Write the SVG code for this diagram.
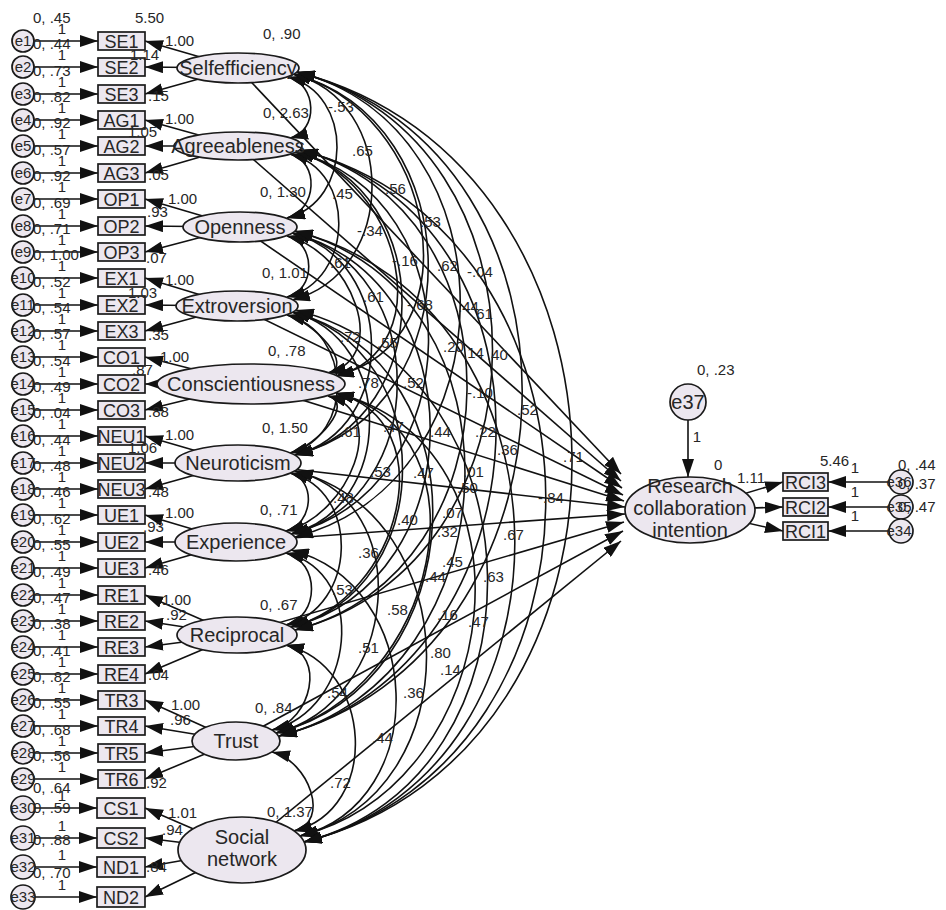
<svg xmlns="http://www.w3.org/2000/svg" width="946" height="910" viewBox="0 0 946 910">
<defs>
<style>
.nd{fill:#ece7ef;stroke:#1a1a1a;stroke-width:1.7}
.t{font-family:"Liberation Sans",Arial,sans-serif;fill:#262626}
.n{font-size:15px}
.b{font-size:18px;text-anchor:middle}
.l{font-size:20px;text-anchor:middle}
.e{font-size:15px;text-anchor:middle}
.c{fill:none;stroke:#111;stroke-width:1.6}
.ar{marker-end:url(#a)}
.dr{marker-start:url(#a);marker-end:url(#a)}
</style>
<marker id="a" viewBox="0 0 18 12" refX="18" refY="6" markerWidth="18" markerHeight="12" markerUnits="userSpaceOnUse" orient="auto-start-reverse"><path d="M0,0L18,6L0,12z" fill="#111"/></marker>
</defs>
<rect width="946" height="910" fill="#fff"/>
<g id="connectors">
<g class="c ar">
<path d="M238,68L145,41"/><path d="M238,68L145,67"/><path d="M238,68L145,94"/>
<path d="M238,146L145,120"/><path d="M238,146L145,146"/><path d="M238,146L145,173"/>
<path d="M240,227L145,199"/><path d="M240,227L145,226"/><path d="M240,227L145,252"/>
<path d="M237,306L145,278"/><path d="M237,306L145,305"/><path d="M237,306L145,331"/>
<path d="M251,384L145,357"/><path d="M251,384L145,384"/><path d="M251,384L145,410"/>
<path d="M238,463L145,436"/><path d="M238,463L145,463"/><path d="M238,463L145,489"/>
<path d="M236,542L145,515"/><path d="M236,542L145,542"/><path d="M236,542L145,568"/>
<path d="M237,635L145,595"/><path d="M237,635L145,621"/><path d="M237,635L145,647"/><path d="M237,635L145,674"/>
<path d="M236,741L145,700"/><path d="M236,741L145,726"/><path d="M236,741L145,753"/><path d="M236,741L145,779"/>
<path d="M242,850L145,808"/><path d="M242,850L145,838"/><path d="M242,850L145,867"/><path d="M242,850L145,897"/>
<path d="M34,41H98"/><path d="M34,67H98"/><path d="M34,94H98"/><path d="M34,120H98"/><path d="M34,146H98"/><path d="M34,173H98"/>
<path d="M34,199H98"/><path d="M34,226H98"/><path d="M34,252H98"/><path d="M34,278H98"/><path d="M34,305H98"/><path d="M34,331H98"/>
<path d="M34,357H98"/><path d="M34,384H98"/><path d="M34,410H98"/><path d="M34,436H98"/><path d="M34,463H98"/><path d="M34,489H98"/>
<path d="M34,515H98"/><path d="M34,542H98"/><path d="M34,568H98"/><path d="M34,595H98"/><path d="M34,621H98"/><path d="M34,647H98"/>
<path d="M34,674H98"/><path d="M34,700H98"/><path d="M34,726H98"/><path d="M34,753H98"/><path d="M34,779H98"/>
<path d="M35,808H97"/><path d="M35,838H97"/><path d="M35,867H97"/><path d="M35,897H97"/>
<path d="M238,68L621,474"/><path d="M238,146L621,481"/><path d="M240,227L622,488"/><path d="M237,306L623,495"/>
<path d="M251,384L624,501"/><path d="M238,463L625,507"/><path d="M236,542L625,514"/><path d="M237,635L624,522"/>
<path d="M236,741L623,531"/><path d="M242,850L621,541"/>
<path d="M688,420V477"/>
<path d="M690,510L783,482"/><path d="M690,510L783,507"/><path d="M690,510L783,531"/>
<path d="M889,482H828"/><path d="M889,507H828"/><path d="M889,531H828"/>
</g>
<g class="c dr">
<path d="M288,77C317,84 319,131 290,138"/>
<path d="M290,154C320,162 317,210 287,218"/>
<path d="M287,236C316,243 316,290 287,297"/>
<path d="M287,315C314,322 355,366 328,373"/>
<path d="M328,396C355,403 317,446 290,453"/>
<path d="M290,473C317,480 313,524 286,531"/>
<path d="M286,553C320,562 320,616 286,625"/>
<path d="M286,645C326,655 312,720 272,730"/>
<path d="M272,752C309,761 331,822 294,831"/>
<path d="M288,77C354,94 353,201 287,218"/>
<path d="M290,154C357,171 354,280 287,297"/>
<path d="M287,236C351,252 392,357 328,373"/>
<path d="M287,315C352,332 355,436 290,453"/>
<path d="M328,396C391,412 349,515 286,531"/>
<path d="M290,473C361,491 357,607 286,625"/>
<path d="M286,553C369,574 355,709 272,730"/>
<path d="M286,645C373,667 381,809 294,831"/>
<path d="M293,74C399,101 398,273 292,300"/>
<path d="M296,152C401,179 441,349 336,376"/>
<path d="M292,233C396,260 399,428 295,455"/>
<path d="M292,312C396,339 395,507 291,534"/>
<path d="M336,393C446,421 401,599 291,627"/>
<path d="M295,471C418,502 399,702 276,733"/>
<path d="M291,550C425,584 434,802 300,836"/>
<path d="M293,74C435,110 478,340 336,376"/>
<path d="M296,152C438,188 437,419 295,455"/>
<path d="M292,233C433,269 432,498 291,534"/>
<path d="M292,312C440,350 439,589 291,627"/>
<path d="M336,393C496,434 436,692 276,733"/>
<path d="M295,471C467,515 472,792 300,836"/>
<path d="M293,74C472,120 474,409 295,455"/>
<path d="M296,152C476,198 471,488 291,534"/>
<path d="M292,233C477,280 476,580 291,627"/>
<path d="M292,312C490,363 474,683 276,733"/>
<path d="M336,393C544,446 508,783 300,836"/>
<path d="M297,72C516,128 514,481 295,537"/>
<path d="M300,150C526,208 521,572 295,630"/>
<path d="M295,231C532,292 516,675 279,736"/>
<path d="M296,310C546,374 554,778 304,842"/>
<path d="M297,72C559,139 557,563 295,630"/>
<path d="M300,150C575,220 554,666 279,736"/>
<path d="M295,231C582,304 591,769 304,842"/>
<path d="M297,72C609,152 591,656 279,736"/>
<path d="M300,150C625,233 629,759 304,842"/>
<path d="M297,72C659,164 666,750 304,842"/>
</g>
</g>
<g id="factors">
<g id="Selfefficiency"><ellipse class="nd" cx="238" cy="68" rx="61" ry="15"/><text class="t l" x="238" y="75">Selfefficiency</text></g>
<g id="Agreeableness"><ellipse class="nd" cx="238" cy="146" rx="64" ry="14"/><text class="t l" x="238" y="153">Agreeableness</text></g>
<g id="Openness"><ellipse class="nd" cx="240" cy="227" rx="57" ry="15"/><text class="t l" x="240" y="234">Openness</text></g>
<g id="Extroversion"><ellipse class="nd" cx="237" cy="306" rx="61" ry="15"/><text class="t l" x="237" y="313">Extroversion</text></g>
<g id="Conscientiousness"><ellipse class="nd" cx="251" cy="384" rx="94" ry="20"/><text class="t l" x="251" y="391">Conscientiousness</text></g>
<g id="Neuroticism"><ellipse class="nd" cx="238" cy="463" rx="63" ry="18"/><text class="t l" x="238" y="470">Neuroticism</text></g>
<g id="Experience"><ellipse class="nd" cx="236" cy="542" rx="61" ry="19"/><text class="t l" x="236" y="549">Experience</text></g>
<g id="Reciprocal"><ellipse class="nd" cx="237" cy="635" rx="60" ry="18"/><text class="t l" x="237" y="642">Reciprocal</text></g>
<g id="Trust"><ellipse class="nd" cx="236" cy="741" rx="44" ry="19"/><text class="t l" x="236" y="748">Trust</text></g>
<g id="Socialnetwork"><ellipse class="nd" cx="242" cy="850" rx="64" ry="33"/><text class="t l" x="242" y="844">Social</text><text class="t l" x="242" y="866">network</text></g>
<g id="RCI"><ellipse class="nd" cx="690" cy="510" rx="65" ry="33"/><text class="t l" x="690" y="493">Research</text><text class="t l" x="690" y="515">collaboration</text><text class="t l" x="690" y="537">intention</text></g>
<g id="e37"><circle class="nd" cx="688" cy="402" r="18"/><text class="t l" x="688" y="409">e37</text></g>
</g>
<g id="indicators">
<g id="SE1"><rect class="nd" x="98" y="32" width="47" height="18"/><text class="t b" x="121.5" y="48">SE1</text></g>
<g id="SE2"><rect class="nd" x="98" y="58" width="47" height="18"/><text class="t b" x="121.5" y="74">SE2</text></g>
<g id="SE3"><rect class="nd" x="98" y="85" width="47" height="18"/><text class="t b" x="121.5" y="101">SE3</text></g>
<g id="AG1"><rect class="nd" x="98" y="111" width="47" height="18"/><text class="t b" x="121.5" y="127">AG1</text></g>
<g id="AG2"><rect class="nd" x="98" y="137" width="47" height="18"/><text class="t b" x="121.5" y="153">AG2</text></g>
<g id="AG3"><rect class="nd" x="98" y="164" width="47" height="18"/><text class="t b" x="121.5" y="180">AG3</text></g>
<g id="OP1"><rect class="nd" x="98" y="190" width="47" height="18"/><text class="t b" x="121.5" y="206">OP1</text></g>
<g id="OP2"><rect class="nd" x="98" y="217" width="47" height="18"/><text class="t b" x="121.5" y="233">OP2</text></g>
<g id="OP3"><rect class="nd" x="98" y="243" width="47" height="18"/><text class="t b" x="121.5" y="259">OP3</text></g>
<g id="EX1"><rect class="nd" x="98" y="269" width="47" height="18"/><text class="t b" x="121.5" y="285">EX1</text></g>
<g id="EX2"><rect class="nd" x="98" y="296" width="47" height="18"/><text class="t b" x="121.5" y="312">EX2</text></g>
<g id="EX3"><rect class="nd" x="98" y="322" width="47" height="18"/><text class="t b" x="121.5" y="338">EX3</text></g>
<g id="CO1"><rect class="nd" x="98" y="348" width="47" height="18"/><text class="t b" x="121.5" y="364">CO1</text></g>
<g id="CO2"><rect class="nd" x="98" y="375" width="47" height="18"/><text class="t b" x="121.5" y="391">CO2</text></g>
<g id="CO3"><rect class="nd" x="98" y="401" width="47" height="18"/><text class="t b" x="121.5" y="417">CO3</text></g>
<g id="NEU1"><rect class="nd" x="98" y="427" width="47" height="18"/><text class="t b" x="121.5" y="443">NEU1</text></g>
<g id="NEU2"><rect class="nd" x="98" y="454" width="47" height="18"/><text class="t b" x="121.5" y="470">NEU2</text></g>
<g id="NEU3"><rect class="nd" x="98" y="480" width="47" height="18"/><text class="t b" x="121.5" y="496">NEU3</text></g>
<g id="UE1"><rect class="nd" x="98" y="506" width="47" height="18"/><text class="t b" x="121.5" y="522">UE1</text></g>
<g id="UE2"><rect class="nd" x="98" y="533" width="47" height="18"/><text class="t b" x="121.5" y="549">UE2</text></g>
<g id="UE3"><rect class="nd" x="98" y="559" width="47" height="18"/><text class="t b" x="121.5" y="575">UE3</text></g>
<g id="RE1"><rect class="nd" x="98" y="586" width="47" height="18"/><text class="t b" x="121.5" y="602">RE1</text></g>
<g id="RE2"><rect class="nd" x="98" y="612" width="47" height="18"/><text class="t b" x="121.5" y="628">RE2</text></g>
<g id="RE3"><rect class="nd" x="98" y="638" width="47" height="18"/><text class="t b" x="121.5" y="654">RE3</text></g>
<g id="RE4"><rect class="nd" x="98" y="665" width="47" height="18"/><text class="t b" x="121.5" y="681">RE4</text></g>
<g id="TR3"><rect class="nd" x="98" y="691" width="47" height="18"/><text class="t b" x="121.5" y="707">TR3</text></g>
<g id="TR4"><rect class="nd" x="98" y="717" width="47" height="18"/><text class="t b" x="121.5" y="733">TR4</text></g>
<g id="TR5"><rect class="nd" x="98" y="744" width="47" height="18"/><text class="t b" x="121.5" y="760">TR5</text></g>
<g id="TR6"><rect class="nd" x="98" y="770" width="47" height="18"/><text class="t b" x="121.5" y="786">TR6</text></g>
<g id="CS1"><rect class="nd" x="97" y="798" width="48" height="20"/><text class="t b" x="121" y="815">CS1</text></g>
<g id="CS2"><rect class="nd" x="97" y="828" width="48" height="20"/><text class="t b" x="121" y="845">CS2</text></g>
<g id="ND1"><rect class="nd" x="97" y="857" width="48" height="20"/><text class="t b" x="121" y="874">ND1</text></g>
<g id="ND2"><rect class="nd" x="97" y="887" width="48" height="20"/><text class="t b" x="121" y="904">ND2</text></g>
<g id="RCI3"><rect class="nd" x="783" y="473" width="45" height="18"/><text class="t b" x="805.5" y="489">RCI3</text></g>
<g id="RCI2"><rect class="nd" x="783" y="498" width="45" height="18"/><text class="t b" x="805.5" y="514">RCI2</text></g>
<g id="RCI1"><rect class="nd" x="783" y="522" width="45" height="18"/><text class="t b" x="805.5" y="538">RCI1</text></g>
</g>
<g id="errors">
<g id="e1"><circle class="nd" cx="23" cy="41" r="11"/><text class="t e" x="23" y="46">e1</text></g>
<g id="e2"><circle class="nd" cx="23" cy="67" r="11"/><text class="t e" x="23" y="72">e2</text></g>
<g id="e3"><circle class="nd" cx="23" cy="94" r="11"/><text class="t e" x="23" y="99">e3</text></g>
<g id="e4"><circle class="nd" cx="23" cy="120" r="11"/><text class="t e" x="23" y="125">e4</text></g>
<g id="e5"><circle class="nd" cx="23" cy="146" r="11"/><text class="t e" x="23" y="151">e5</text></g>
<g id="e6"><circle class="nd" cx="23" cy="173" r="11"/><text class="t e" x="23" y="178">e6</text></g>
<g id="e7"><circle class="nd" cx="23" cy="199" r="11"/><text class="t e" x="23" y="204">e7</text></g>
<g id="e8"><circle class="nd" cx="23" cy="226" r="11"/><text class="t e" x="23" y="231">e8</text></g>
<g id="e9"><circle class="nd" cx="23" cy="252" r="11"/><text class="t e" x="23" y="257">e9</text></g>
<g id="e10"><circle class="nd" cx="23" cy="278" r="11"/><text class="t e" x="23" y="283">e10</text></g>
<g id="e11"><circle class="nd" cx="23" cy="305" r="11"/><text class="t e" x="23" y="310">e11</text></g>
<g id="e12"><circle class="nd" cx="23" cy="331" r="11"/><text class="t e" x="23" y="336">e12</text></g>
<g id="e13"><circle class="nd" cx="23" cy="357" r="11"/><text class="t e" x="23" y="362">e13</text></g>
<g id="e14"><circle class="nd" cx="23" cy="384" r="11"/><text class="t e" x="23" y="389">e14</text></g>
<g id="e15"><circle class="nd" cx="23" cy="410" r="11"/><text class="t e" x="23" y="415">e15</text></g>
<g id="e16"><circle class="nd" cx="23" cy="436" r="11"/><text class="t e" x="23" y="441">e16</text></g>
<g id="e17"><circle class="nd" cx="23" cy="463" r="11"/><text class="t e" x="23" y="468">e17</text></g>
<g id="e18"><circle class="nd" cx="23" cy="489" r="11"/><text class="t e" x="23" y="494">e18</text></g>
<g id="e19"><circle class="nd" cx="23" cy="515" r="11"/><text class="t e" x="23" y="520">e19</text></g>
<g id="e20"><circle class="nd" cx="23" cy="542" r="11"/><text class="t e" x="23" y="547">e20</text></g>
<g id="e21"><circle class="nd" cx="23" cy="568" r="11"/><text class="t e" x="23" y="573">e21</text></g>
<g id="e22"><circle class="nd" cx="23" cy="595" r="11"/><text class="t e" x="23" y="600">e22</text></g>
<g id="e23"><circle class="nd" cx="23" cy="621" r="11"/><text class="t e" x="23" y="626">e23</text></g>
<g id="e24"><circle class="nd" cx="23" cy="647" r="11"/><text class="t e" x="23" y="652">e24</text></g>
<g id="e25"><circle class="nd" cx="23" cy="674" r="11"/><text class="t e" x="23" y="679">e25</text></g>
<g id="e26"><circle class="nd" cx="23" cy="700" r="11"/><text class="t e" x="23" y="705">e26</text></g>
<g id="e27"><circle class="nd" cx="23" cy="726" r="11"/><text class="t e" x="23" y="731">e27</text></g>
<g id="e28"><circle class="nd" cx="23" cy="753" r="11"/><text class="t e" x="23" y="758">e28</text></g>
<g id="e29"><circle class="nd" cx="23" cy="779" r="11"/><text class="t e" x="23" y="784">e29</text></g>
<g id="e30"><circle class="nd" cx="23" cy="808" r="12"/><text class="t e" x="23" y="813">e30</text></g>
<g id="e31"><circle class="nd" cx="23" cy="838" r="12"/><text class="t e" x="23" y="843">e31</text></g>
<g id="e32"><circle class="nd" cx="23" cy="867" r="12"/><text class="t e" x="23" y="872">e32</text></g>
<g id="e33"><circle class="nd" cx="23" cy="897" r="12"/><text class="t e" x="23" y="902">e33</text></g>
<g id="e36"><circle class="nd" cx="901" cy="482" r="12"/><text class="t e" x="899" y="487">e36</text></g>
<g id="e35"><circle class="nd" cx="901" cy="507" r="12"/><text class="t e" x="899" y="512">e35</text></g>
<g id="e34"><circle class="nd" cx="901" cy="531" r="12"/><text class="t e" x="899" y="536">e34</text></g>
</g>
<g id="labels" class="t n">
<text x="33" y="23">0, .45</text><text x="33" y="49">0, .44</text><text x="33" y="76">0, .73</text><text x="33" y="102">0, .82</text>
<text x="33" y="128">0, .92</text><text x="33" y="155">0, .57</text><text x="33" y="181">0, .92</text><text x="33" y="208">0, .69</text>
<text x="33" y="234">0, .71</text><text x="33" y="260">0, 1.00</text><text x="33" y="287">0, .52</text><text x="33" y="313">0, .54</text>
<text x="33" y="339">0, .57</text><text x="33" y="366">0, .54</text><text x="33" y="392">0, .49</text><text x="33" y="418">0, .04</text>
<text x="33" y="445">0, .44</text><text x="33" y="471">0, .48</text><text x="33" y="497">0, .46</text><text x="33" y="524">0, .62</text>
<text x="33" y="550">0, .55</text><text x="33" y="577">0, .49</text><text x="33" y="603">0, .47</text><text x="33" y="629">0, .38</text>
<text x="33" y="656">0, .41</text><text x="33" y="682">0, .82</text><text x="33" y="708">0, .55</text><text x="33" y="735">0, .68</text>
<text x="33" y="761">0, .56</text><text x="33" y="793">0, .64</text><text x="33" y="813">0, .59</text><text x="33" y="845">0, .88</text><text x="33" y="878">0, .70</text>
<g text-anchor="middle">
<text x="62" y="34">1</text><text x="62" y="60">1</text><text x="62" y="87">1</text><text x="62" y="113">1</text><text x="62" y="139">1</text><text x="62" y="166">1</text>
<text x="62" y="192">1</text><text x="62" y="219">1</text><text x="62" y="245">1</text><text x="62" y="271">1</text><text x="62" y="298">1</text><text x="62" y="324">1</text>
<text x="62" y="350">1</text><text x="62" y="377">1</text><text x="62" y="403">1</text><text x="62" y="429">1</text><text x="62" y="456">1</text><text x="62" y="482">1</text>
<text x="62" y="508">1</text><text x="62" y="535">1</text><text x="62" y="561">1</text><text x="62" y="588">1</text><text x="62" y="614">1</text><text x="62" y="640">1</text>
<text x="62" y="667">1</text><text x="62" y="693">1</text><text x="62" y="719">1</text><text x="62" y="746">1</text><text x="62" y="772">1</text>
<text x="62" y="801">1</text><text x="62" y="831">1</text><text x="62" y="860">1</text><text x="62" y="890">1</text>
<text x="855" y="473">1</text><text x="855" y="497">1</text><text x="855" y="521">1</text>
<text x="697" y="442">1</text>
</g>
<text x="135" y="23">5.50</text><text x="165" y="46">1.00</text><text x="130" y="60">1.14</text><text x="148" y="101">.15</text>
<text x="165" y="124">1.00</text><text x="128" y="137">1.05</text><text x="148" y="180">.05</text>
<text x="168" y="204">1.00</text><text x="147" y="217">.93</text><text x="146" y="263">.07</text>
<text x="165" y="285">1.00</text><text x="128" y="298">1.03</text><text x="148" y="340">.35</text>
<text x="160" y="362">1.00</text><text x="132" y="375">.87</text><text x="148" y="417">.88</text>
<text x="165" y="440">1.00</text><text x="128" y="453">1.06</text><text x="148" y="497">.48</text>
<text x="165" y="518">1.00</text><text x="143" y="532">.93</text><text x="148" y="575">.46</text>
<text x="162" y="605">1.00</text><text x="166" y="620">.92</text><text x="148" y="680">.04</text>
<text x="171" y="710">1.00</text><text x="170" y="725">.96</text><text x="146" y="788">.92</text>
<text x="168" y="818">1.01</text><text x="162" y="835">.94</text><text x="146" y="872">.84</text>
<text x="263" y="39">0, .90</text><text x="263" y="118">0, 2.63</text><text x="260" y="197">0, 1.30</text><text x="262" y="278">0, 1.01</text>
<text x="268" y="356">0, .78</text><text x="262" y="433">0, 1.50</text><text x="260" y="515">0, .71</text><text x="260" y="610">0, .67</text>
<text x="255" y="713">0, .84</text><text x="267" y="817">0, 1.37</text>
<text x="697" y="375">0, .23</text><text x="714" y="470">0</text>
<text x="737" y="483">1.11</text><text x="820" y="466">5.46</text>
<text x="898" y="470">0, .44</text><text x="898" y="489">0, .37</text><text x="898" y="512">0, .47</text>
<text x="328" y="112">-.53</text><text x="352" y="156">.65</text><text x="332" y="199">.45</text><text x="385" y="194">.56</text>
<text x="357" y="236">-.34</text><text x="420" y="227">.53</text><text x="392" y="266">-.16</text><text x="437" y="271">.62</text>
<text x="467" y="277">-.04</text><text x="330" y="268">.61</text><text x="363" y="302">.61</text><text x="407" y="310">-.68</text>
<text x="458" y="312">.44</text><text x="472" y="319">.61</text><text x="340" y="342">.72</text><text x="377" y="348">.55</text>
<text x="443" y="352">.20</text><text x="463" y="358">.14</text><text x="487" y="360">.40</text><text x="358" y="388">.78</text>
<text x="403" y="388">.52</text><text x="467" y="398">-.10</text><text x="517" y="415">.52</text><text x="383" y="432">.47</text>
<text x="430" y="437">.44</text><text x="475" y="437">.22</text><text x="340" y="437">.61</text><text x="497" y="455">.36</text>
<text x="370" y="477">.53</text><text x="413" y="478">.47</text><text x="463" y="477">.01</text><text x="457" y="493">.50</text>
<text x="538" y="503">-.84</text><text x="333" y="503">.48</text><text x="397" y="525">.40</text><text x="442" y="518">.07</text>
<text x="437" y="537">.32</text><text x="503" y="540">.67</text><text x="358" y="558">.36</text><text x="442" y="567">.45</text>
<text x="425" y="582">.44</text><text x="483" y="582">.63</text><text x="332" y="595">.53</text><text x="387" y="615">.58</text>
<text x="437" y="620">.16</text><text x="468" y="627">.47</text><text x="358" y="653">.51</text><text x="430" y="658">.80</text>
<text x="440" y="675">.14</text><text x="327" y="698">.54</text><text x="403" y="698">.36</text><text x="372" y="743">.44</text>
<text x="330" y="788">.72</text><text x="563" y="462">.71</text>
</g>
</svg>
